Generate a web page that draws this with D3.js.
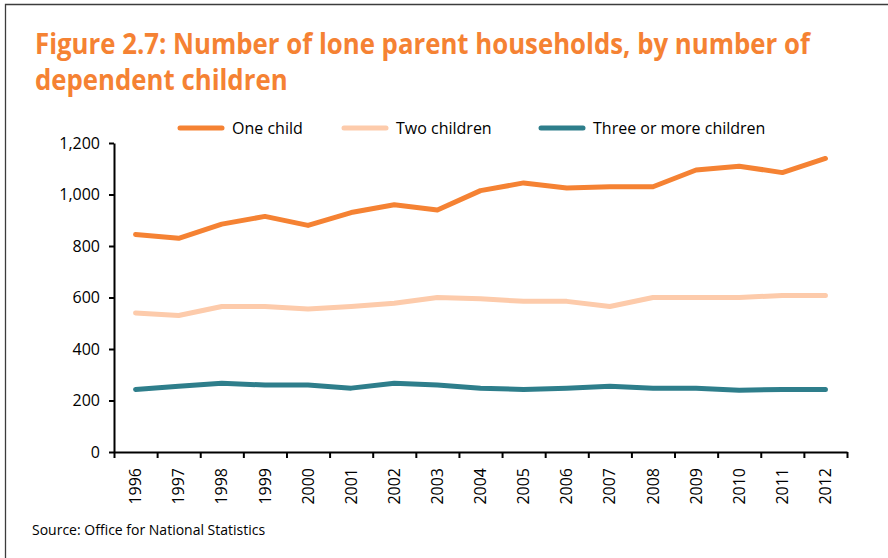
<!DOCTYPE html>
<html>
<head>
<meta charset="utf-8">
<script src="https://cdn.jsdelivr.net/npm/d3@7"></script>
<style>
  body { margin: 0; background: #fff; }
  svg { display: block; }
</style>
</head>
<body>
<div id="chart"></div>
<script>
// chart data
var years = ["1996", "1997", "1998", "1999", "2000", "2001", "2002", "2003", "2004",
             "2005", "2006", "2007", "2008", "2009", "2010", "2011", "2012"]
var oneChild = [845, 830, 885, 915, 880, 930, 960, 940, 1015, 1045, 1025, 1030, 1030, 1095, 1110, 1085, 1140]
var twoChildren = [540, 530, 565, 565, 555, 565, 578, 600, 595, 585, 585, 565, 600, 600, 600, 608, 608]
var threeOrMore = [243, 255, 267, 260, 260, 248, 267, 260, 248, 243, 248, 255, 248, 248, 240, 243, 243]
var yTicks = [0, 200, 400, 600, 800, 1000, 1200]
var seriesNames = ["One child", "Two children", "Three or more children"]
var seriesColors = ["#f58233", "#fdcbab", "#2e7e8b"]

var series = [oneChild, twoChildren, threeOrMore].map(function(vals, i) {
    return { name: seriesNames[i], color: seriesColors[i], values: vals }
})

var w = 888
var h = 558
var font = "'Open Sans', sans-serif"

var svg = d3.select("#chart").append("svg")
    .attr("width", w)
    .attr("height", h)

// frame around the figure (only left and top edges are visible)
svg.append("path")
    .attr("d", "M5.5," + h + " V4.5 H" + w)
    .attr("fill", "none")
    .attr("stroke", "#3c3c3c")
    .attr("stroke-width", 1.3)

// title - the original uses a narrow font, so squeeze Open Sans horizontally
var titleLines = ["Figure 2.7: Number of lone parent households, by number of", "dependent children"]
var titleWidth = 775
var titleText = svg.selectAll(".title")
    .data(titleLines)
    .enter()
    .append("text")
    .attr("class", "title")
    .text(function(d) { return d })
    .attr("font-size", 29)
    .attr("font-weight", "bold")
    .attr("font-family", font)
    .attr("fill", "#f58233")
var squeeze = titleWidth / titleText.node().getComputedTextLength()
titleText.attr("transform", function(d, i) {
    return "translate(35," + (54 + i * 36) + ") scale(" + squeeze + ",1)"
})

// plot area edges
var plotLeft = 114, plotRight = 847, plotTop = 143, plotBottom = 452

// scales
var xScale = d3.scaleBand().domain(years).range([plotLeft, plotRight]).padding(0)
var yScale = d3.scaleLinear().domain([0, 1200]).range([plotBottom, plotTop])
var xEdges = d3.scaleLinear().domain([0, years.length]).range([plotLeft, plotRight])

// y axis
var yAxis = svg.append("g")
    .attr("transform", "translate(" + plotLeft + ",0)")
    .call(d3.axisLeft(yScale).tickValues(yTicks).tickSize(5).tickSizeOuter(0).tickPadding(9).tickFormat(d3.format(",")))
yAxis.select(".domain").attr("stroke", "#000").attr("stroke-width", 2)
yAxis.selectAll(".tick line").attr("stroke", "#000").attr("stroke-width", 2)
yAxis.selectAll(".tick text")
    .attr("font-size", 16)
    .attr("font-family", font)
    .attr("fill", "#000")

// x axis: tick marks between the categories
var xTickAxis = svg.append("g")
    .attr("transform", "translate(0," + plotBottom + ")")
    .call(d3.axisBottom(xEdges).tickValues(d3.range(years.length + 1)).tickSize(6).tickSizeOuter(0).tickFormat(""))
xTickAxis.select(".domain").attr("stroke", "#000").attr("stroke-width", 2)
xTickAxis.selectAll(".tick line").attr("stroke", "#000").attr("stroke-width", 2)

// x axis: rotated year labels
var xLabelAxis = svg.append("g")
    .attr("transform", "translate(0," + plotBottom + ")")
    .call(d3.axisBottom(xScale).tickSize(0).tickPadding(0))
xLabelAxis.select(".domain").remove()
xLabelAxis.selectAll(".tick text")
    .attr("transform", "rotate(-90)")
    .attr("text-anchor", "end")
    .attr("dy", "0.35em")
    .attr("x", -16)
    .attr("y", 0)
    .attr("font-size", 16)
    .attr("font-family", font)
    .attr("fill", "#000")

// lines
var line = d3.line()
    .x(function(d, i) { return xScale(years[i]) + xScale.bandwidth() / 2 })
    .y(function(d) { return yScale(d) })

svg.selectAll(".series")
    .data(series)
    .enter()
    .append("path")
    .attr("class", "series")
    .attr("d", function(d) { return line(d.values) })
    .attr("fill", "none")
    .attr("stroke", function(d) { return d.color })
    .attr("stroke-width", 5)
    .attr("stroke-linejoin", "round")
    .attr("stroke-linecap", "round")

// legend
var legendX = [180, 344, 541]
var legend = svg.selectAll(".legend")
    .data(series)
    .enter()
    .append("g")
    .attr("class", "legend")
    .attr("transform", function(d, i) { return "translate(" + legendX[i] + ",128)" })

legend.append("line")
    .attr("x1", 0)
    .attr("x2", 42)
    .attr("stroke", function(d) { return d.color })
    .attr("stroke-width", 5)
    .attr("stroke-linecap", "round")

legend.append("text")
    .attr("x", 52)
    .attr("y", 0)
    .attr("dy", "0.35em")
    .text(function(d) { return d.name })
    .attr("font-size", 16)
    .attr("font-family", font)
    .attr("fill", "#000")

// source note
svg.append("text")
    .attr("x", 32)
    .attr("y", 535)
    .text("Source: Office for National Statistics")
    .attr("font-size", 14)
    .attr("font-family", font)
    .attr("fill", "#000")
</script>
</body>
</html>
